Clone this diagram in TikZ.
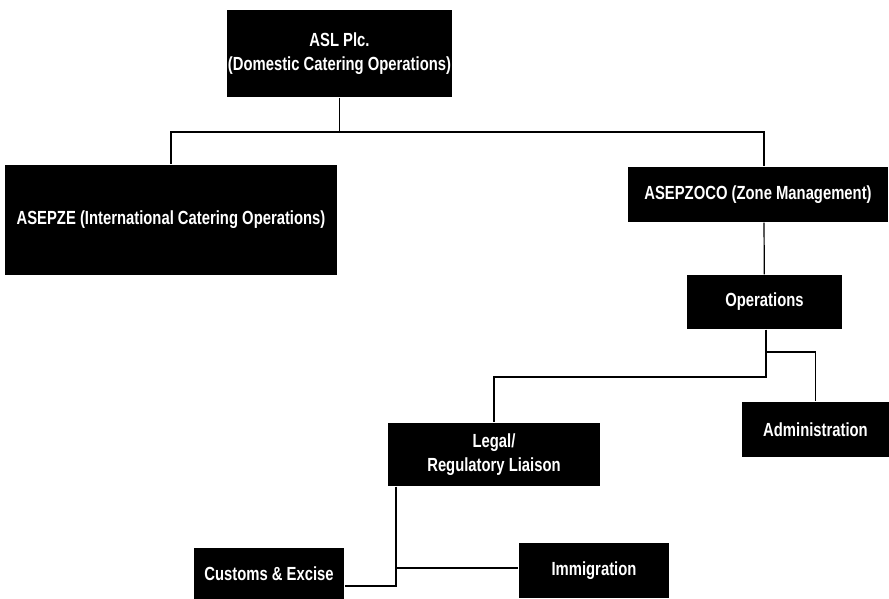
\documentclass[tikz,border=0pt]{standalone}
\usepackage{fontspec}
\setmainfont{Liberation Sans}[FakeStretch=0.78]
\usepackage{tikz}

\begin{document}
\begin{tikzpicture}[x=1pt,y=-1pt,
  unit/.style={fill=black,text=white,inner sep=0pt,align=center,
    font=\bfseries\fontsize{19}{24}\selectfont},
  line width=1.2pt]
\useasboundingbox (0,0) rectangle (889,599);
\node [unit,minimum width=225,minimum height=87] (asl) at (339.5,53.5)
  {ASL Plc.\\(Domestic Catering Operations)};
\node [unit,minimum width=332,minimum height=110] (asepze) at (171,220)
  {ASEPZE (International Catering Operations)};
\node [unit,minimum width=260,minimum height=55] (zoco) at (758,194.5)
  {ASEPZOCO (Zone Management)};
\node [unit,minimum width=155,minimum height=54] (ops) at (764.5,302) {Operations};
\node [unit,minimum width=212,minimum height=63] (legal) at (494,454.5)
  {Legal/\\Regulatory Liaison};
\node [unit,minimum width=147,minimum height=55] (admin) at (815.5,429.5) {Administration};
\node [unit,minimum width=150,minimum height=51] (customs) at (269,573.5) {Customs \& Excise};
\node [unit,minimum width=150,minimum height=55] (immig) at (594,570.5) {Immigration};
% junctions
\coordinate (top) at (339.5,132);
\coordinate (mid) at (766,377);
\coordinate (side) at (766,352);
\coordinate (low) at (396,568);
\coordinate (foot) at (396,586);
\draw (asl) -- (top);
\draw (top) -| (asepze);
\draw (top) -| ([xshift=6pt]zoco.north);
\draw ([xshift=6pt]zoco.south) -- (ops);
\draw (ops.south -| mid) -- (mid) -| (legal);
\draw (side) -| (admin);
\draw (legal.south -| low) -- (foot) -- (foot -| customs.east);
\draw (low) -- (low -| immig.west);
\end{tikzpicture}
\end{document}
